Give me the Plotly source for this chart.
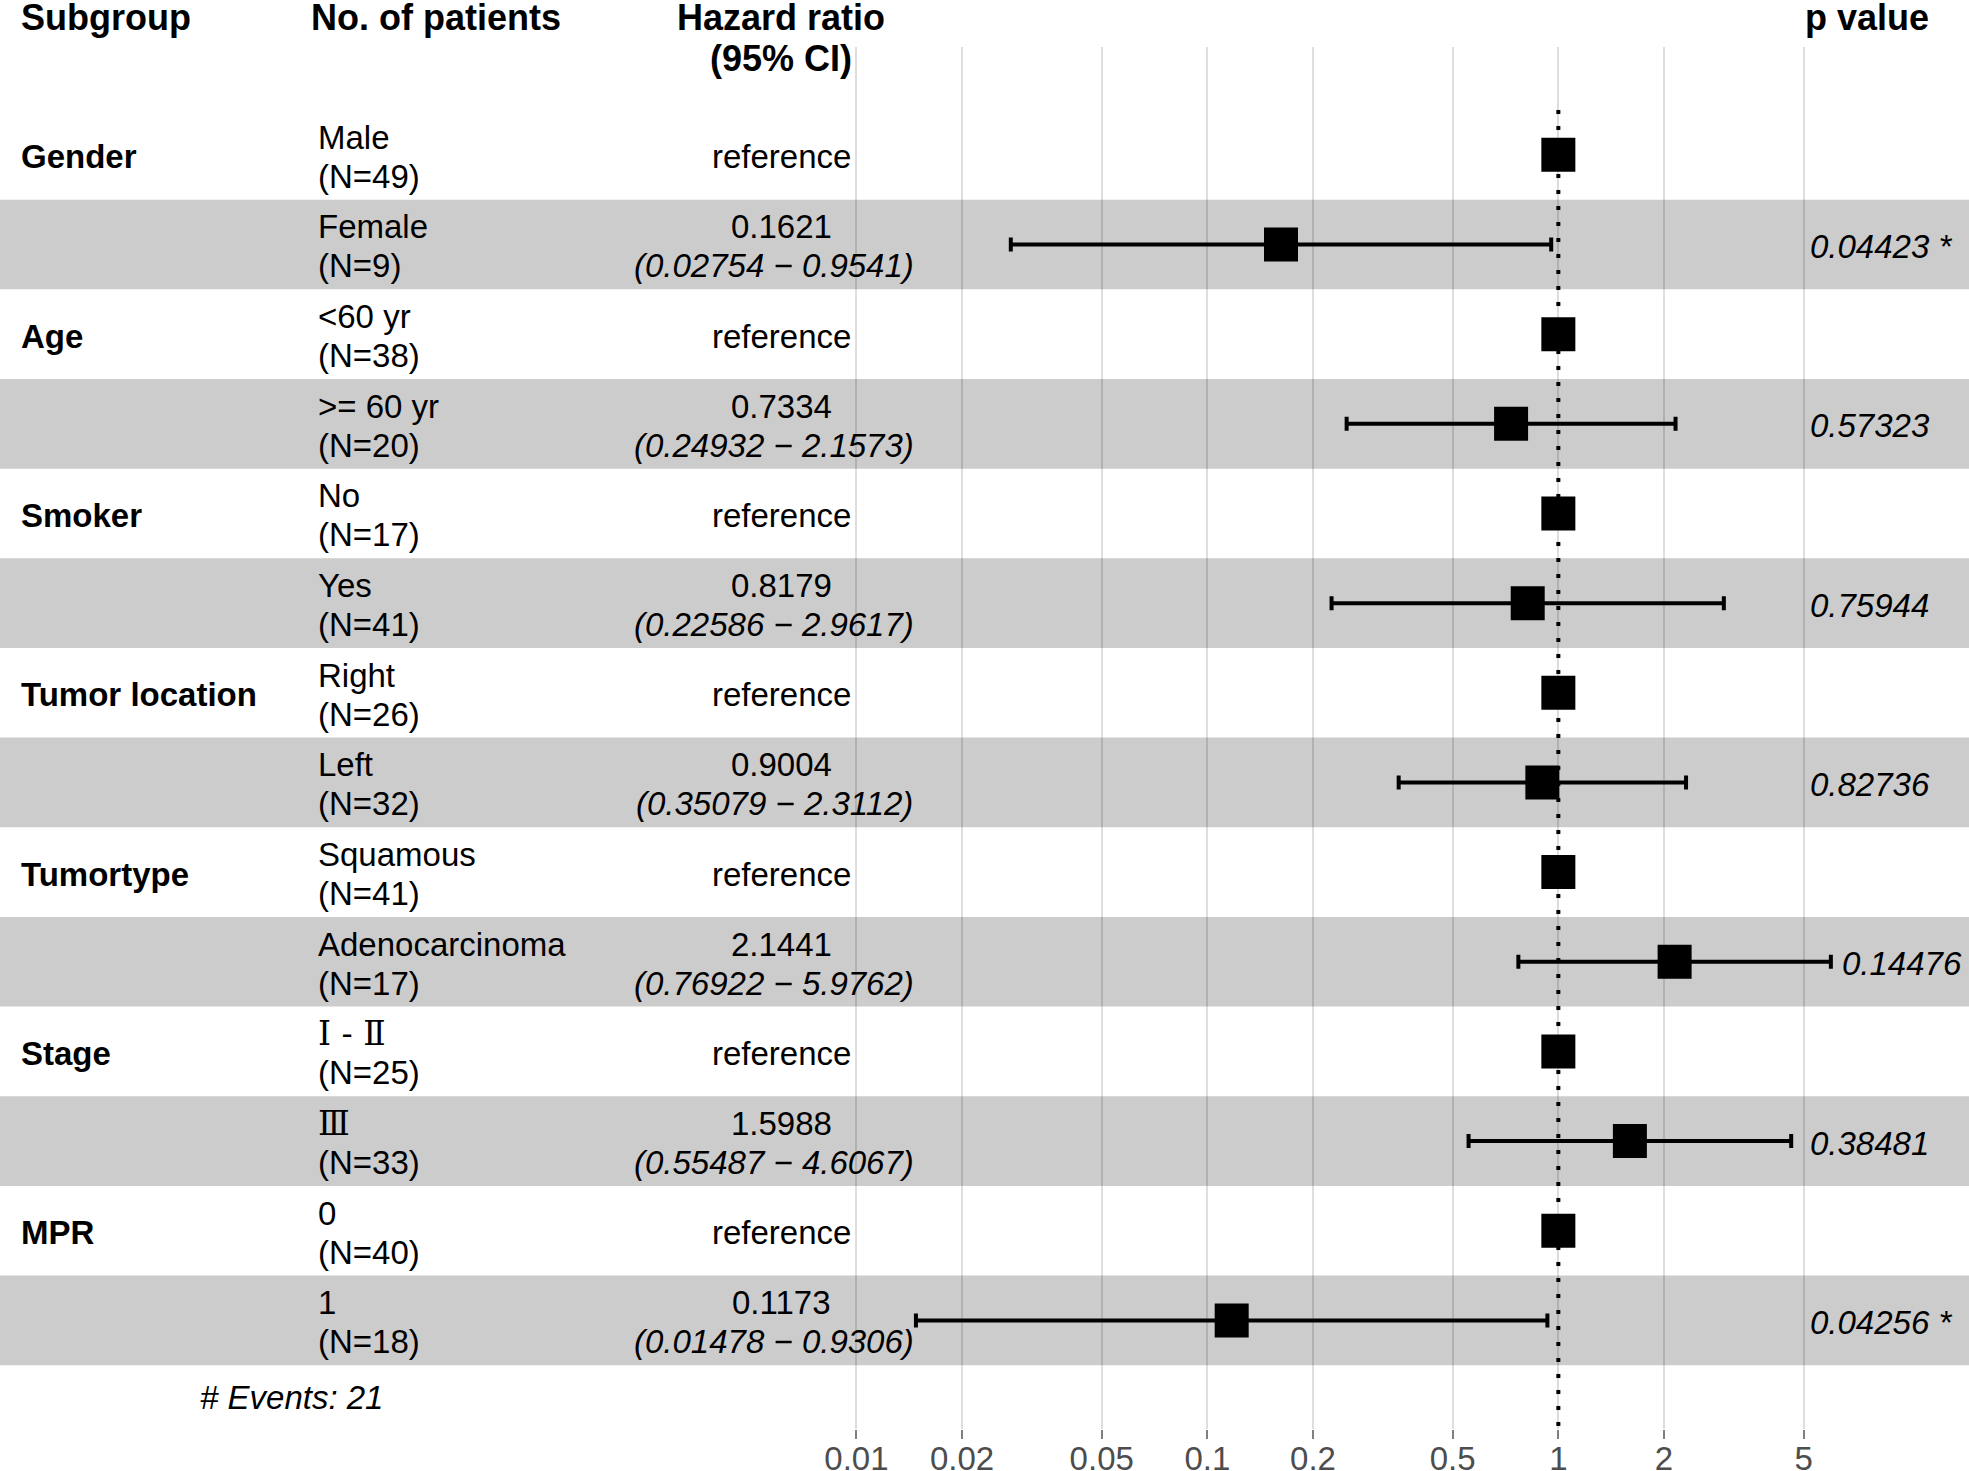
import math
import plotly.graph_objects as go

# ---------------- data ----------------
groups = ["Gender", "Age", "Smoker", "Tumor location", "Tumortype", "Stage", "MPR"]
levels = ["Male", "Female", "&lt;60 yr", "&gt;= 60 yr", "No", "Yes", "Right", "Left",
          "Squamous", "Adenocarcinoma", "Ⅰ - Ⅱ", "Ⅲ", "0", "1"]
n_patients = [49, 9, 38, 20, 17, 41, 26, 32, 41, 17, 25, 33, 40, 18]
hr = [1, 0.1621, 1, 0.7334, 1, 0.8179, 1, 0.9004, 1, 2.1441, 1, 1.5988, 1, 0.1173]
ci_low = [None, 0.02754, None, 0.24932, None, 0.22586, None, 0.35079, None, 0.76922,
          None, 0.55487, None, 0.01478]
ci_high = [None, 0.9541, None, 2.1573, None, 2.9617, None, 2.3112, None, 5.9762,
           None, 4.6067, None, 0.9306]
p_values = [None, "0.04423 *", None, "0.57323", None, "0.75944", None, "0.82736",
            None, "0.14476", None, "0.38481", None, "0.04256 *"]
tick_vals = [0.01, 0.02, 0.05, 0.1, 0.2, 0.5, 1, 2, 5]
tick_labels = ["0.01", "0.02", "0.05", "0.1", "0.2", "0.5", "1", "2", "5"]
n_events = 21

# ---------------- layout constants ----------------
W, H = 1969, 1471
TOP, BOTTOM = 47, 1429          # plot area in pixels
ROW0, ROWH = 110.0, 89.66       # first row top, row height
FONT = "Liberation Sans, Arial, sans-serif"
ROMAN = "DejaVu Serif, Noto Sans CJK SC, serif"
FS = 33
HFS = 36
LINE = 19.5                     # half line spacing in px
DROP = -2                       # small downward nudge of body text
P_ANCHOR = 4.85


def row_of_px(py):
    return (py - ROW0) / ROWH - 0.5


def xp(px):
    return px / W


def yp(py):
    return (BOTTOM - py) / (BOTTOM - TOP)


def has_roman(s):
    return any(0x2160 <= ord(c) <= 0x2188 for c in s)


n_rows = len(levels)
rows = list(range(n_rows))
y_top = row_of_px(TOP)
y_bot = row_of_px(BOTTOM)
y_line_end = row_of_px(1438)

fig = go.Figure()

# alternating bands
shapes = []
for i in rows:
    if i % 2 == 1:
        shapes.append(dict(type="rect", xref="paper", yref="y", x0=0, x1=1,
                           y0=i - 0.5, y1=i + 0.5, fillcolor="#cccccc",
                           line=dict(width=0), layer="below"))
# reference line at HR = 1
shapes.append(dict(type="line", xref="x", yref="y", x0=1, x1=1, y0=-0.5, y1=y_line_end,
                   line=dict(color="black", width=4, dash="4px,12px"), layer="above"))

err_plus = [(h - v) if h is not None else None for h, v in zip(ci_high, hr)]
err_minus = [(v - l) if l is not None else None for l, v in zip(ci_low, hr)]

fig.add_trace(go.Scatter(
    x=hr, y=rows, mode="markers",
    marker=dict(symbol="square", size=34, color="black"),
    error_x=dict(type="data", symmetric=False, array=err_plus, arrayminus=err_minus,
                 color="black", thickness=4, width=7),
    hoverinfo="skip", showlegend=False, cliponaxis=False,
))

ann = []
hdr_font = dict(family=FONT, size=HFS, color="black")


def header(text, px, py, anchor):
    ann.append(dict(text=f"<b>{text}</b>", xref="paper", yref="paper", x=xp(px), y=yp(py),
                    xanchor=anchor, yanchor="middle", showarrow=False, font=hdr_font))


header("Subgroup", 19, 17, "left")
header("No. of patients", 309, 17, "left")
header("Hazard ratio", 781, 17, "center")
header("(95% CI)", 781, 58, "center")
header("p value", 1931, 17, "right")

body_font = dict(family=FONT, size=FS, color="black")
roman_font = dict(family=ROMAN, size=FS, color="black")


def body(text, x, y, anchor, yshift=0, xref="paper", xshift=0, font=None):
    ann.append(dict(text=text, xref=xref, yref="y", x=x, y=y, xanchor=anchor,
                    yanchor="middle", yshift=yshift + DROP, xshift=xshift, showarrow=False,
                    font=font or body_font))


gi = 0
for i in rows:
    if i % 2 == 0:
        body("<b>" + groups[gi] + "</b>", xp(19), i, "left")
        gi += 1
    body(levels[i], xp(316), i, "left", yshift=LINE,
         font=roman_font if has_roman(levels[i]) else None)
    body(f"(N={n_patients[i]})", xp(316), i, "left", yshift=-LINE)
    if ci_low[i] is None:
        body("reference", xp(781), i, "center")
    else:
        body(f"{hr[i]}", xp(781), i, "center", yshift=LINE)
        body(f"<i>({ci_low[i]} − {ci_high[i]})</i>", xp(781), i, "center",
             yshift=-LINE, xshift=-7)
    if p_values[i] is not None:
        body(f"<i>{p_values[i]}</i>", math.log10(max(P_ANCHOR, ci_high[i])), i, "left",
             xref="x", xshift=9)

body(f"<i># Events: {n_events}</i>", xp(198), row_of_px(1395), "left")

fig.update_layout(
    width=W, height=H,
    margin=dict(l=0, r=0, t=TOP, b=H - BOTTOM, pad=0, autoexpand=False),
    paper_bgcolor="white", plot_bgcolor="white",
    shapes=shapes, annotations=ann, showlegend=False,
    xaxis=dict(type="log", range=[-4.44, 1.17], tickvals=tick_vals, ticktext=tick_labels,
               showgrid=True, gridcolor="rgba(0,0,0,0.13)", gridwidth=1.5,
               zeroline=False, showline=False, ticks="outside", ticklen=9,
               tickwidth=1.5, tickcolor="#808080", ticklabelstandoff=-9, automargin=False,
               tickfont=dict(family=FONT, size=FS, color="#4d4d4d"), fixedrange=True),
    yaxis=dict(range=[y_bot, y_top], visible=False, showgrid=False, zeroline=False,
               fixedrange=True, automargin=False),
)

fig.write_html("out.html", config={"displayModeBar": False},
               post_script="document.body.style.margin='0';document.body.style.padding='0';")
